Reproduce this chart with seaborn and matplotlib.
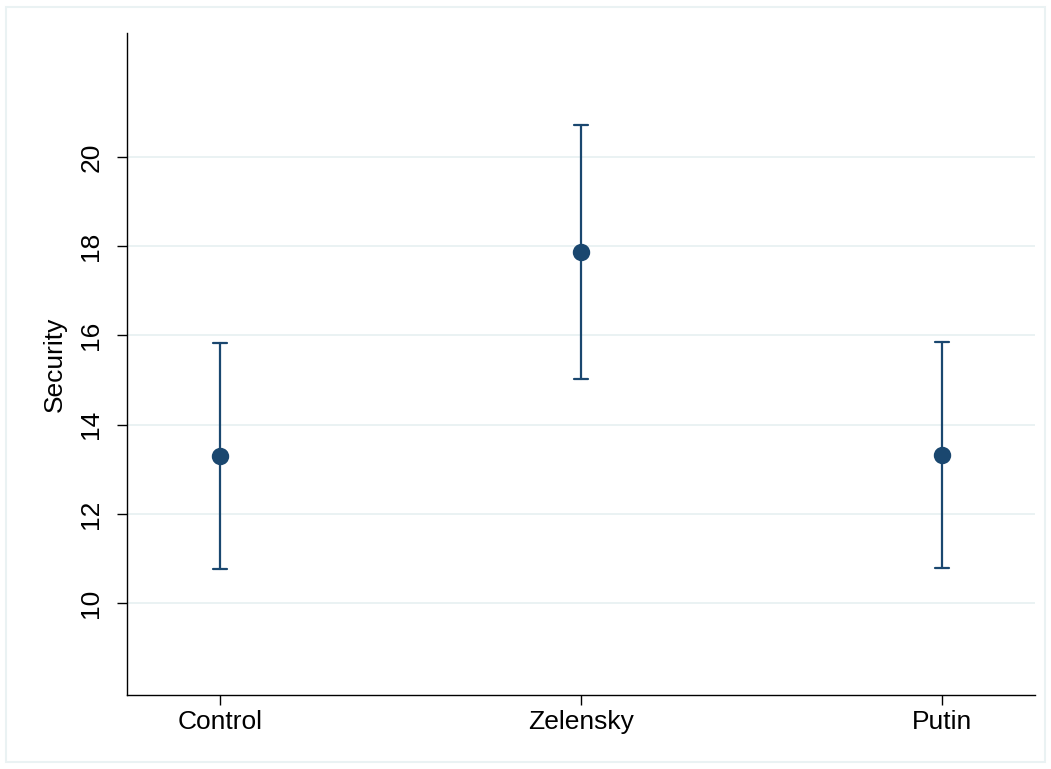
import matplotlib
matplotlib.use("Agg")
import matplotlib.pyplot as plt
import seaborn as sns
import pandas as pd
from matplotlib.patches import Rectangle

# Data
groups = ["Control", "Zelensky", "Putin"]
means = [13.30, 17.87, 13.31]
ci_low = [10.76, 15.02, 10.78]
ci_high = [15.83, 20.72, 15.85]
yticks = [10, 12, 14, 16, 18, 20]

sns.set_theme(style="white")
plt.rcParams["font.family"] = ["Liberation Sans", "DejaVu Sans"]

rows = []
for g, lo, m, hi in zip(groups, ci_low, means, ci_high):
    for v in (lo, m, hi):
        rows.append({"group": g, "value": v})
df = pd.DataFrame(rows)

navy = "#1a476f"
grid = "#eaf2f3"

fig = plt.figure(figsize=(10.51, 7.69), dpi=100)
fig.patches.append(Rectangle((6 / 1051, 7 / 769), 1039 / 1051, 755 / 769,
                             transform=fig.transFigure, fill=False,
                             edgecolor=grid, linewidth=1.5))
ax = fig.add_axes([127 / 1051, 1 - 695 / 769, (1035 - 127) / 1051, (695 - 33) / 769])

sns.pointplot(data=df, x="group", y="value", order=groups,
              estimator="median", errorbar=("pi", 100),
              color=navy, linestyle="none", markersize=10.5,
              capsize=0.04, err_kws={"linewidth": 1.6}, ax=ax)

ax.set_xlim(-0.258, 2.258)
ax.set_ylim(7.94, 22.78)
ax.set_yticks(yticks)
ax.set_yticklabels([str(t) for t in yticks], rotation=90, va="center")
ax.yaxis.grid(True, color=grid, linewidth=1.4)
ax.set_axisbelow(True)

for s in ["top", "right"]:
    ax.spines[s].set_visible(False)
for s in ["left", "bottom"]:
    ax.spines[s].set_color("black")
    ax.spines[s].set_linewidth(1.0)

ax.tick_params(axis="y", which="major", left=True, length=7, width=1.0,
               color="black", labelsize=19, pad=10, labelcolor="black")
ax.tick_params(axis="x", which="major", bottom=True, length=7, width=1.0,
               color="black", labelsize=19, pad=4, labelcolor="black")
ax.set_xlabel("")
ax.set_ylabel("Security", fontsize=19, color="black", labelpad=9)

fig.savefig("out.png", dpi=100, facecolor="white")
